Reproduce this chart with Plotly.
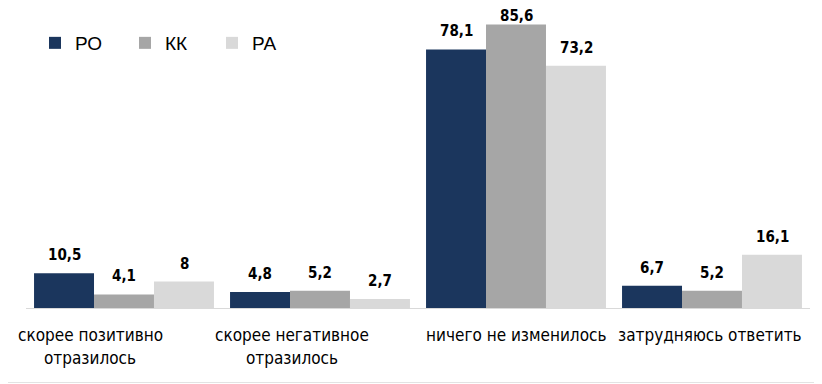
import plotly.graph_objects as go

categories = ["скорее позитивно\nотразилось", "скорее негативное\nотразилось",
              "ничего не изменилось", "затрудняюсь ответить"]
series_names = ["РО", "КК", "РА"]
po_values = [10.5, 4.8, 78.1, 6.7]
kk_values = [4.1, 5.2, 85.6, 5.2]
pa_values = [8, 2.7, 73.2, 16.1]
colors = ["#1b365d", "#a6a6a6", "#d9d9d9"]

series = [po_values, kk_values, pa_values]
cat_keys = [c.replace("\n", " ") for c in categories]

# page body adds an 8px offset; figure sized to fill the remaining window
OFF = 8
W, H = 822 - OFF, 384 - OFF
L, R, T, B = 26 - OFF, 12, 10 - OFF, 76
PW, PH = W - L - R, H - T - B

fig = go.Figure()
legend_ids = ["legend", "legend2", "legend3"]
for name, vals, col, lid in zip(series_names, series, colors, legend_ids):
    fig.add_trace(go.Bar(x=cat_keys, y=vals, name=name, marker_color=col,
                         marker_line_width=0, legend=lid))

def fmt(v):
    s = f"{v:g}"
    return s.replace(".", ",")

annotations = []
for i, vals in enumerate(series):
    for j, v in enumerate(vals):
        ys = 18
        if v > 85:
            ys = 9
        annotations.append(dict(x=cat_keys[j], y=v, xref="x", yref="y",
                                text=fmt(v), showarrow=False,
                                xshift=(i - 1) * 60, yshift=ys,
                                font=dict(family="DejaVu Sans Condensed, DejaVu Sans", size=15,
                                          color="#000000", weight="bold")))

label_shift = [-34, -28, 0, -2]
for j, c in enumerate(categories):
    for k, line in enumerate(c.split("\n")):
        annotations.append(dict(x=cat_keys[j], y=0, xref="x", yref="paper",
                                text=line, showarrow=False, yanchor="middle",
                                xshift=label_shift[j], yshift=-27 - 23 * k,
                                font=dict(family="DejaVu Sans Condensed, DejaVu Sans",
                                          size=17, color="#000000")))

legend_common = dict(orientation="h", xref="paper", yref="paper",
                     yanchor="middle", xanchor="left", bgcolor="rgba(0,0,0,0)",
                     font=dict(family="Liberation Sans, Arial", size=19, color="#000000"))
legend_x = [35, 125, 212]
layout_legends = {}
for lid, lx in zip(legend_ids, legend_x):
    layout_legends[lid] = dict(legend_common, x=(lx - 26) / PW, y=(308 - 43) / PH)

fig.update_layout(
    width=W, height=H,
    margin=dict(l=L, r=R, t=T, b=B, autoexpand=False),
    paper_bgcolor="white", plot_bgcolor="white",
    barmode="group", bargap=0.082, bargroupgap=0,
    showlegend=True,
    xaxis=dict(showticklabels=False, showline=True, linecolor="#d9d9d9",
               range=[-0.5, len(categories) - 0.5], autorange=False,
               linewidth=1, showgrid=False, zeroline=False, ticks=""),
    yaxis=dict(range=[0, 90], autorange=False, visible=False, showgrid=False, zeroline=False),
    annotations=annotations,
    shapes=[dict(type="rect", xref="paper", yref="paper",
                 x0=(1 - 26) / PW, x1=(818 - 26) / PW,
                 y0=(308 - 382.5) / PH, y1=(308 - 0.5) / PH,
                 line=dict(color="#e3e3e3", width=1), fillcolor="rgba(0,0,0,0)")],
    **layout_legends,
)

fig.write_html("out.html")
